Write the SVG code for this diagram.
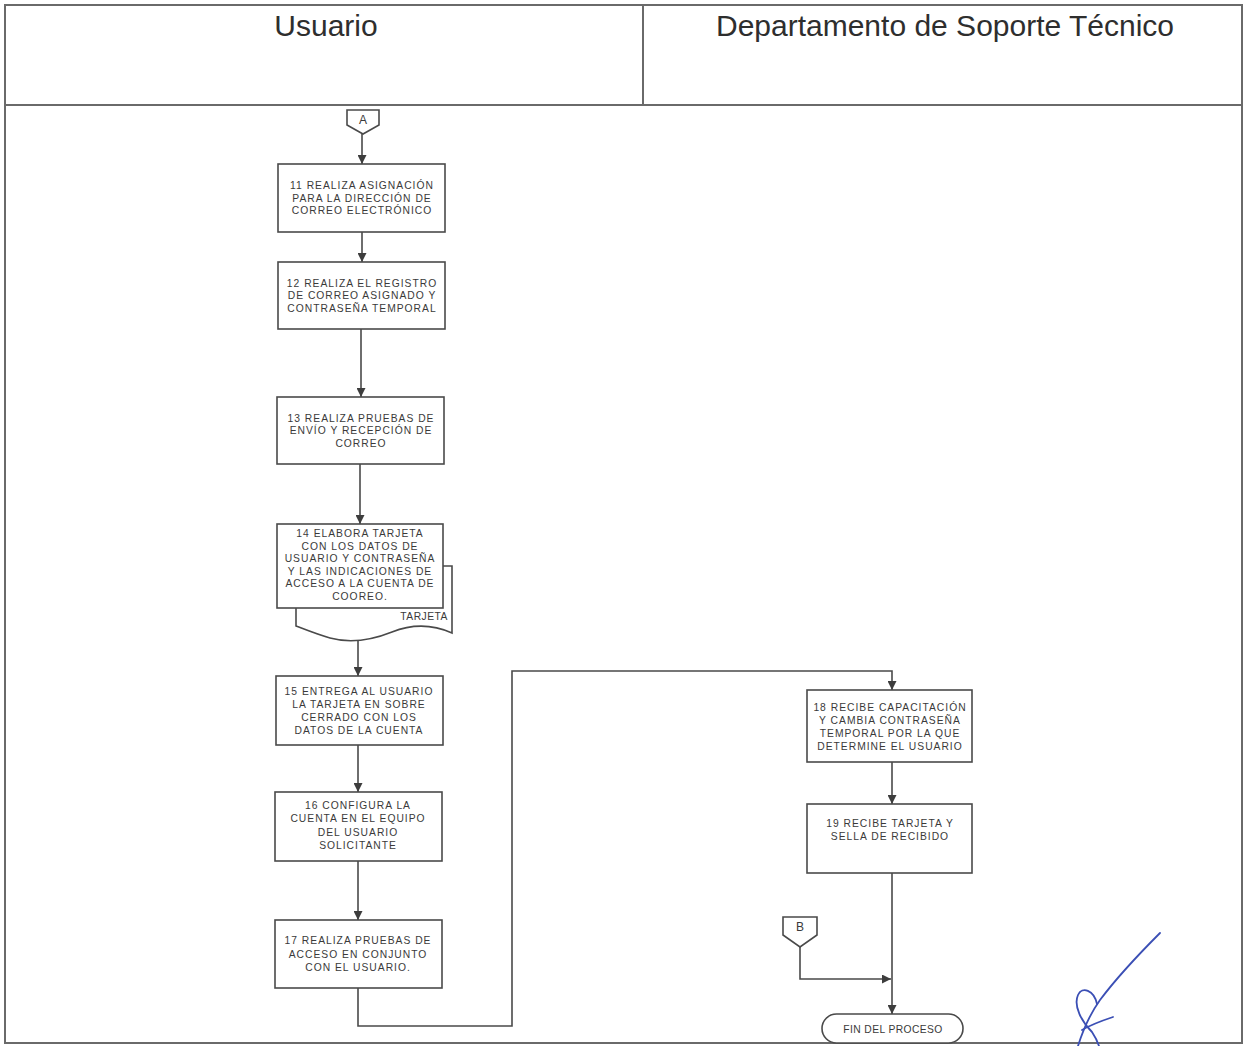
<svg xmlns="http://www.w3.org/2000/svg" width="1244" height="1046" viewBox="0 0 1244 1046">
  <defs>
    <marker id="arrow" viewBox="0 0 10 10" refX="10" refY="5" markerWidth="11" markerHeight="9" markerUnits="userSpaceOnUse" orient="auto">
      <path d="M0,0 L10,5 L0,10 z" fill="#3d3d3d"/>
    </marker>
    <style>
      .frame { fill: none; stroke: #6a6a6a; stroke-width: 2; }
      .lane-title { font-family: "Liberation Sans", Arial, sans-serif; font-size: 30px; fill: #2e2e2e; text-anchor: middle; }
      .box { fill: #ffffff; stroke: #4a4a4a; stroke-width: 1.6; }
      .label { font-family: "Liberation Sans", Arial, sans-serif; font-size: 10.3px; letter-spacing: 1px; fill: #3a3a3a; text-anchor: middle; }
      .conn { fill: none; stroke: #4a4a4a; stroke-width: 1.6; }
      .flow { fill: none; stroke: #4a4a4a; stroke-width: 1.6; marker-end: url(#arrow); }
      .sign { fill: none; stroke: #3b4fb5; stroke-width: 1.8; stroke-linecap: round; }
    </style>
  </defs>

  <rect width="1244" height="1046" fill="#ffffff"/>

  <!-- swimlane frame and headers -->
  <g id="lanes">
    <rect class="frame" x="5" y="5" width="1237" height="1038"/>
    <line class="frame" x1="5" y1="105" x2="1242" y2="105"/>
    <line class="frame" x1="643" y1="5" x2="643" y2="105"/>
    <text class="lane-title" x="326" y="36">Usuario</text>
    <text class="lane-title" x="945" y="36">Departamento de Soporte Técnico</text>
  </g>

  <!-- connectors -->
  <g id="connectors">
    <line class="flow" x1="362" y1="134" x2="362" y2="164"/>
    <line class="flow" x1="362" y1="232" x2="362" y2="262"/>
    <line class="flow" x1="361" y1="329" x2="361" y2="397"/>
    <line class="flow" x1="360" y1="464" x2="360" y2="524"/>
    <line class="flow" x1="358" y1="640" x2="358" y2="676"/>
    <line class="flow" x1="358" y1="745" x2="358" y2="792"/>
    <line class="flow" x1="358" y1="861" x2="358" y2="920"/>
    <polyline class="flow" points="358,988 358,1026 512,1026 512,671 892,671 892,690"/>
    <line class="flow" x1="892" y1="762" x2="892" y2="804"/>
    <line class="flow" x1="892" y1="873" x2="892" y2="1014"/>
    <polyline class="flow" points="800,947 800,979 891,979"/>
  </g>

  <!-- off-page connector A -->
  <g id="conn-a">
    <path class="box" d="M347,110 H379 V125 L363,134 L347,125 Z"/>
    <text class="label" x="363" y="124" style="font-size:12px;letter-spacing:0">A</text>
  </g>

  <g id="step-11">
    <rect class="box" x="278" y="164" width="167" height="68"/>
    <text class="label" x="362" y="189">11 REALIZA ASIGNACIÓN</text>
    <text class="label" x="362" y="201.5">PARA LA DIRECCIÓN DE</text>
    <text class="label" x="362" y="214">CORREO ELECTRÓNICO</text>
  </g>

  <g id="step-12">
    <rect class="box" x="278" y="262" width="167" height="67"/>
    <text class="label" x="362" y="286.5">12 REALIZA EL REGISTRO</text>
    <text class="label" x="362" y="299">DE CORREO ASIGNADO Y</text>
    <text class="label" x="362" y="311.5">CONTRASEÑA TEMPORAL</text>
  </g>

  <g id="step-13">
    <rect class="box" x="277" y="397" width="167" height="67"/>
    <text class="label" x="361" y="421.5">13 REALIZA PRUEBAS DE</text>
    <text class="label" x="361" y="434">ENVÍO Y RECEPCIÓN DE</text>
    <text class="label" x="361" y="446.5">CORREO</text>
  </g>

  <g id="step-14">
    <!-- document shape behind the process box -->
    <path class="box" d="M296,566 H452 V633 C432,624 412,624 392,632 C372,640 352,644 330,638 C316,634 304,629 296,626 Z"/>
    <text class="label" x="448" y="619.5" style="text-anchor:end;letter-spacing:0.5px">TARJETA</text>
    <rect class="box" x="277" y="524" width="166" height="84"/>
    <text class="label" x="360" y="537">14 ELABORA TARJETA</text>
    <text class="label" x="360" y="549.5">CON LOS DATOS DE</text>
    <text class="label" x="360" y="562">USUARIO Y CONTRASEÑA</text>
    <text class="label" x="360" y="574.5">Y LAS INDICACIONES DE</text>
    <text class="label" x="360" y="587">ACCESO A LA CUENTA DE</text>
    <text class="label" x="360" y="600">COOREO.</text>
  </g>

  <g id="step-15">
    <rect class="box" x="276" y="676" width="167" height="69"/>
    <text class="label" x="359" y="694.5">15 ENTREGA AL USUARIO</text>
    <text class="label" x="359" y="707.5">LA TARJETA EN SOBRE</text>
    <text class="label" x="359" y="720.5">CERRADO CON LOS</text>
    <text class="label" x="359" y="733.5">DATOS DE LA CUENTA</text>
  </g>

  <g id="step-16">
    <rect class="box" x="275" y="792" width="167" height="69"/>
    <text class="label" x="358" y="809">16 CONFIGURA LA</text>
    <text class="label" x="358" y="822">CUENTA EN EL EQUIPO</text>
    <text class="label" x="358" y="835.5">DEL USUARIO</text>
    <text class="label" x="358" y="849">SOLICITANTE</text>
  </g>

  <g id="step-17">
    <rect class="box" x="275" y="920" width="167" height="68"/>
    <text class="label" x="358" y="944">17 REALIZA PRUEBAS DE</text>
    <text class="label" x="358" y="957.5">ACCESO EN CONJUNTO</text>
    <text class="label" x="358" y="971">CON EL USUARIO.</text>
  </g>

  <g id="step-18">
    <rect class="box" x="807" y="690" width="165" height="72"/>
    <text class="label" x="890" y="711">18 RECIBE CAPACITACIÓN</text>
    <text class="label" x="890" y="724">Y CAMBIA CONTRASEÑA</text>
    <text class="label" x="890" y="737">TEMPORAL POR LA QUE</text>
    <text class="label" x="890" y="750">DETERMINE EL USUARIO</text>
  </g>

  <g id="step-19">
    <rect class="box" x="807" y="804" width="165" height="69"/>
    <text class="label" x="890" y="827">19 RECIBE TARJETA Y</text>
    <text class="label" x="890" y="840">SELLA DE RECIBIDO</text>
  </g>

  <!-- off-page connector B -->
  <g id="conn-b">
    <path class="box" d="M783,917 H817 V935 L800,947 L783,935 Z"/>
    <text class="label" x="800" y="931" style="font-size:12px;letter-spacing:0">B</text>
  </g>

  <g id="end">
    <rect class="box" x="822" y="1014" width="141" height="29" rx="14.5" ry="14.5"/>
    <text class="label" x="893" y="1032.5" style="letter-spacing:0.4px">FIN DEL PROCESO</text>
  </g>

  <!-- handwritten initials -->
  <g id="signature">
    <path class="sign" d="M1160,933 C1138,955 1115,980 1100,1000 C1090,1014 1083,1030 1078,1046"/>
    <path class="sign" d="M1097,1004 C1094,990 1082,986 1078,995 C1073,1006 1082,1022 1092,1032 C1096,1038 1098,1043 1099,1046"/>
    <path class="sign" d="M1082,1030 C1092,1024 1104,1020 1113,1017"/>
  </g>
</svg>
